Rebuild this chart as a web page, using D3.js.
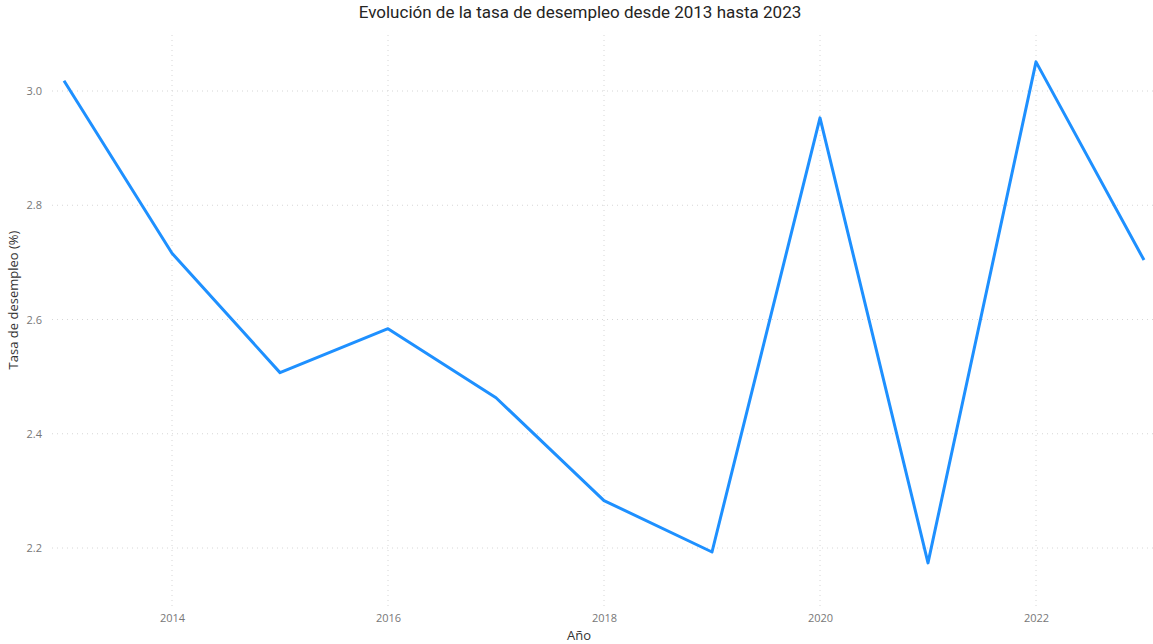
<!DOCTYPE html>
<html>
<head>
<meta charset="utf-8">
<script src="https://cdn.jsdelivr.net/npm/d3@7"></script>
<style>
  body { margin: 0; background: #fff; }
  text { font-family: "Open Sans", "Noto Sans", sans-serif; }
</style>
</head>
<body>
<div id="chart"></div>
<script>
// data
var years = [2013, 2014, 2015, 2016, 2017, 2018, 2019, 2020, 2021, 2022, 2023];
var tasa = [3.018, 2.716, 2.507, 2.584, 2.463, 2.283, 2.193, 2.953, 2.174, 3.051, 2.704];
var xTicks = [2014, 2016, 2018, 2020, 2022];
var yTicks = [2.2, 2.4, 2.6, 2.8, 3.0];

var width = 1153, height = 644;
var panel = {left: 52, right: 1153, top: 35, bottom: 607};

var svg = d3.select("#chart").append("svg")
  .attr("width", width)
  .attr("height", height);

var data = years.map(function(y, i) { return {year: y, value: tasa[i]}; });

var x = d3.scaleLinear()
  .domain([2013, 2023])
  .range([64, 1144]);

var y = d3.scaleLinear()
  .domain([2.2, 3.0])
  .range([548, 91]);

// grid
svg.append("g")
  .selectAll("line")
  .data(yTicks)
  .enter().append("line")
    .attr("x1", panel.left).attr("x2", panel.right)
    .attr("y1", function(d) { return y(d); })
    .attr("y2", function(d) { return y(d); })
    .attr("stroke", "#d6d6d6")
    .attr("stroke-width", 1)
    .attr("stroke-dasharray", "1,4");

svg.append("g")
  .selectAll("line")
  .data(xTicks)
  .enter().append("line")
    .attr("x1", function(d) { return x(d); })
    .attr("x2", function(d) { return x(d); })
    .attr("y1", panel.top).attr("y2", panel.bottom)
    .attr("stroke", "#d6d6d6")
    .attr("stroke-width", 1)
    .attr("stroke-dasharray", "1,4");

// axes (labels only)
var xAxis = svg.append("g")
  .attr("transform", "translate(0," + 611 + ")")
  .call(d3.axisBottom(x).tickValues(xTicks).tickFormat(d3.format("d")).tickSize(0));
xAxis.select(".domain").remove();
xAxis.selectAll("text")
  .attr("font-size", 11)
  .attr("fill", "#777")
  .style("font-family", "'Open Sans', sans-serif");

var yAxis = svg.append("g")
  .attr("transform", "translate(" + 45 + ",0)")
  .call(d3.axisLeft(y).tickValues(yTicks).tickFormat(d3.format(".1f")).tickSize(0));
yAxis.select(".domain").remove();
yAxis.selectAll("text")
  .attr("font-size", 11)
  .attr("fill", "#777")
  .style("font-family", "'Open Sans', sans-serif");

// the line
svg.append("path")
  .datum(data)
  .attr("fill", "none")
  .attr("stroke", "#1e90ff")
  .attr("stroke-width", 3)
  .attr("stroke-linejoin", "round")
  .attr("d", d3.line()
    .x(function(d) { return x(d.year); })
    .y(function(d) { return y(d.value); }));

// titles
svg.append("text")
  .attr("x", 580).attr("y", 18)
  .attr("text-anchor", "middle")
  .attr("font-size", 17)
  .attr("fill", "#252423")
  .style("font-family", "Roboto, sans-serif")
  .text("Evolución de la tasa de desempleo desde 2013 hasta 2023");

svg.append("text")
  .attr("x", 579).attr("y", 640)
  .attr("text-anchor", "middle")
  .attr("font-size", 13)
  .attr("fill", "#333")
  .text("Año");

svg.append("text")
  .attr("transform", "translate(18," + 300 + ") rotate(-90)")
  .attr("text-anchor", "middle")
  .attr("font-size", 13)
  .attr("fill", "#333")
  .text("Tasa de desempleo (%)");
</script>
</body>
</html>
